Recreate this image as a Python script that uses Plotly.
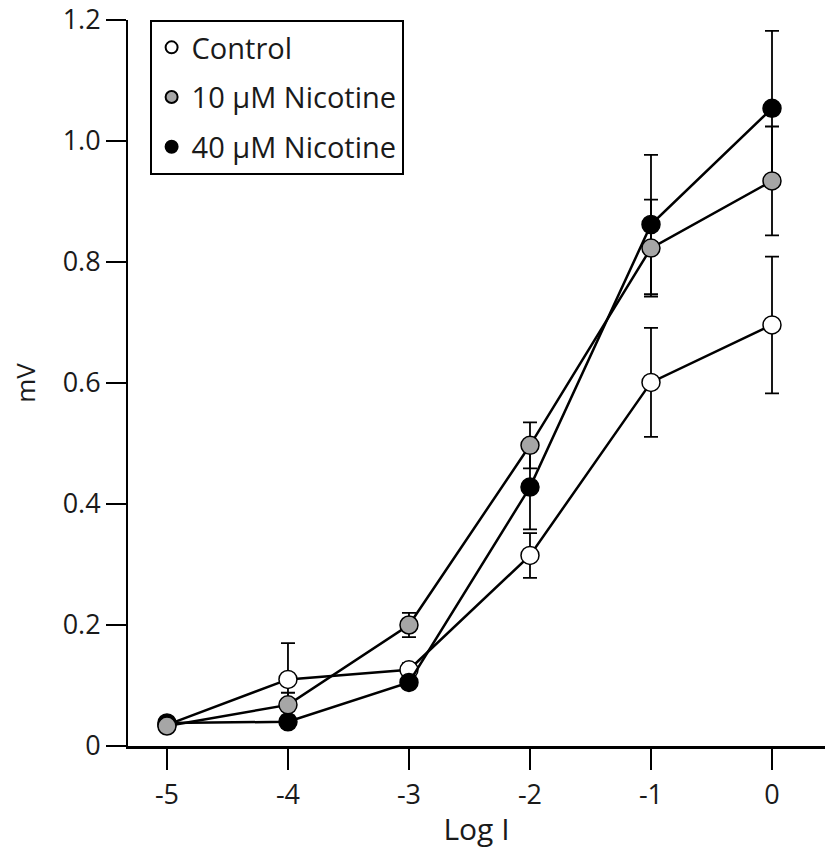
import plotly.graph_objects as go

log_i = [-5, -4, -3, -2, -1, 0]

control = [0.035, 0.110, 0.126, 0.315, 0.601, 0.696]
control_err = [0.005, 0.060, 0.011, 0.037, 0.090, 0.113]

nic10 = [0.033, 0.068, 0.200, 0.497, 0.823, 0.934]
nic10_err = [0.004, 0.020, 0.020, 0.038, 0.080, 0.090]

nic40 = [0.038, 0.040, 0.105, 0.428, 0.862, 1.054]
nic40_err = [0.004, 0.004, 0.008, 0.070, 0.115, 0.128]

series_names = ["Control", "10 \u00b5M Nicotine", "40 \u00b5M Nicotine"]
fills = ["#ffffff", "#a6a6a6", "#000000"]

y_ticks = [0, 0.2, 0.4, 0.6, 0.8, 1.0, 1.2]
y_ticktext = ["0", "0.2", "0.4", "0.6", "0.8", "1.0", "1.2"]
x_ticks = [-5, -4, -3, -2, -1, 0]
x_ticktext = ["-5", "-4", "-3", "-2", "-1", "0"]

FONT = "Open Sans, Lato, sans-serif"

fig = go.Figure()

draw_order = [0, 2, 1]
all_y = [control, nic10, nic40]
all_err = [control_err, nic10_err, nic40_err]
for i in draw_order:
    fig.add_trace(go.Scatter(
        x=log_i, y=all_y[i], mode="lines+markers", showlegend=False,
        name=series_names[i],
        line=dict(color="black", width=2.5),
        marker=dict(size=18, color=fills[i], line=dict(color="black", width=1.5)),
        error_y=dict(type="data", array=all_err[i], visible=True, color="black",
                     thickness=1.8, width=7),
    ))

for k, (name, fill) in enumerate(zip(series_names, fills)):
    fig.add_trace(go.Scatter(
        x=[None], y=[None], mode="markers", name=name, legendgroup=f"g{k}",
        marker=dict(size=13, color=fill, line=dict(color="black", width=1.2)),
    ))

fig.update_layout(
    width=825, height=856,
    margin=dict(l=128, r=0, t=20, b=110),
    plot_bgcolor="white", paper_bgcolor="white",
    font=dict(family=FONT, size=27, color="#1a1a1a"),
    showlegend=True,
    legend=dict(x=0.031, y=1.0, xanchor="left", yanchor="top",
                bordercolor="black", borderwidth=2, bgcolor="white",
                font=dict(size=29), itemsizing="constant",
                tracegroupgap=9),
    xaxis=dict(range=[-5.322, 0.438], tickvals=x_ticks, ticktext=x_ticktext,
               showgrid=False, zeroline=False, showline=True, linecolor="black",
               linewidth=2.5, ticks="outside", ticklen=21, tickwidth=2,
               tickcolor="black", ticklabelstandoff=2, ticklabeloverflow="allow",
               title=dict(text="Log I", standoff=8, font=dict(size=30))),
    yaxis=dict(range=[0, 1.2], tickvals=y_ticks, ticktext=y_ticktext,
               showgrid=False, zeroline=False, showline=True, linecolor="black",
               linewidth=2, ticks="outside", ticklen=20, tickwidth=2,
               tickcolor="black", ticklabeloverflow="allow",
               title=dict(text="mV", standoff=20, font=dict(size=26))),
)

fig.write_html("out.html")
